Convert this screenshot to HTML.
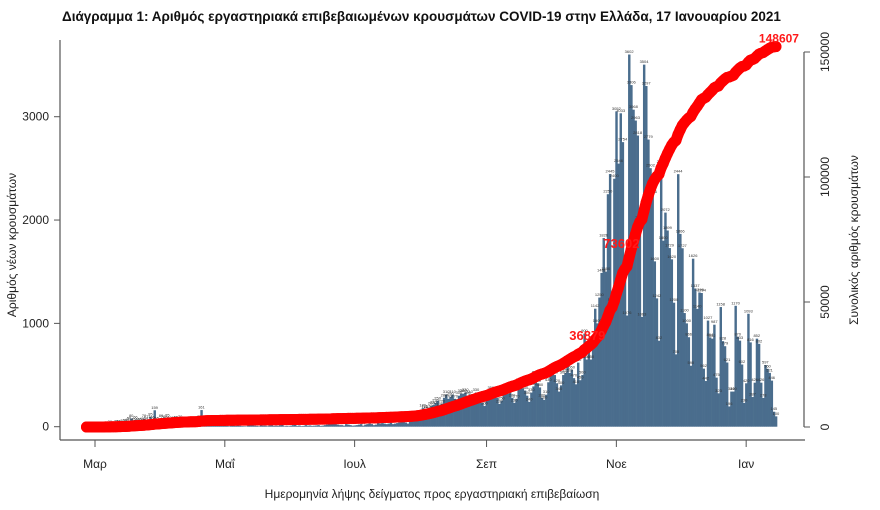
<!DOCTYPE html>
<html><head><meta charset="utf-8">
<style>
body{margin:0;background:#fff;}
svg{display:block;font-family:"Liberation Sans","DejaVu Sans",sans-serif;}
</style></head>
<body>
<svg id="chart" width="880" height="510" viewBox="0 0 880 510" xmlns="http://www.w3.org/2000/svg">
<text x="62" y="21" font-size="13.5" font-weight="bold" fill="#111">Διάγραμμα 1: Αριθμός εργαστηριακά επιβεβαιωμένων κρουσμάτων COVID-19 στην Ελλάδα, 17 Ιανουαρίου 2021</text>
<g id="bars"></g>
<g id="vlabels"></g>
<g id="curve"></g>
<g id="axes"></g>
<text transform="translate(16,245) rotate(-90)" text-anchor="middle" font-size="12" fill="#222">Αριθμός νέων κρουσμάτων</text>
<text transform="translate(858,240) rotate(-90)" text-anchor="middle" font-size="12" fill="#222">Συνολικός αριθμός κρουσμάτων</text>
<text x="432" y="498" text-anchor="middle" font-size="12" fill="#222">Ημερομηνία λήψης δείγματος προς εργαστηριακή επιβεβαίωση</text>
</svg>
<script>
// Daily new cases from 26 Feb 2020
const febValues = [1,2,0,3];
const marValues = [2,0,0,2,12,14,7,20,11,0,25,28,19,33,38,40,56,80,45,66,46,45,48,78,54,71,95,66,159,55,40];
const aprValues = [80,70,60,85,60,50,62,65,55,70,42,30,30,25,35,20,25,40,70,161,40,60,35,30,15,20,15,10,20,10];
const mayValues = [15,10,5,12,15,8,12,10,6,5,4,12,20,15,10,8,5,15,10,10,5,12,15,8,10,8,15,20,5,8,5];
const junValues = [10,15,20,8,12,6,8,15,10,12,8,10,12,15,8,10,15,20,25,30,60,25,20,15,15,10,25,20,15,10];
const julValues = [12,15,20,25,10,20,25,30,25,15,20,40,30,35,30,25,30,40,25,30,35,40,50,45,40,30,60,60,55,80,110];
const augValues = [120,180,165,150,170,200,210,230,250,190,220,280,310,270,290,310,270,230,300,320,320,330,300,310,280,270,330,290,250,230,200];
const sepValues = [260,310,350,330,300,280,220,250,330,340,320,370,280,230,270,430,410,370,350,300,240,330,390,500,420,380,280,260,310,430];
const octEarlyValues = [540,520,500,420,340,400,500,520,580,520,550,470,410,620];
const lateValues = [450,500,900,650,750,650,800,1142,1000,1250,1488,1826,1500,2250,2445,1203,2400,3052,2546,3033,2754,1500,1076,3602,3306,3068,2963,2818,2000,1063,3504,3297,2779,2502,2246,1600,1242,832,2537,1800,2072,1899,1729,1620,1200,700,2444,1866,1727,1100,1000,866,590,1626,1337,1140,1299,1294,562,442,1027,864,852,987,475,323,1158,828,779,621,196,340,340,1170,870,833,602,230,420,1093,816,287,426,852,802,426,278,597,560,521,446,145,100];
const monthTicks = ["Μαρ","Μαΐ","Ιουλ","Σεπ","Νοε","Ιαν"];
const monthTickDays = [0,61,122,184,245,306];
const leftTicks = [0,1000,2000,3000];
const rightTicks = [0,50000,100000,150000];
const highlightCum = [36879,73602,148607];

const daily = [].concat(febValues,marValues,aprValues,mayValues,junValues,julValues,augValues,sepValues,octEarlyValues,lateValues);
const startDay = -4;
const cum = []; let s = 0; daily.forEach(v=>{s+=v;cum.push(s);});

const NS="http://www.w3.org/2000/svg";
const pxDay = 2.128;
const xDay = d => 95 + d*pxDay;
const yL = v => 426.7 - v*0.10333;
const yR = v => 427 - v*0.0025;
function mk(tag, attrs, parent){const e=document.createElementNS(NS,tag);for(const k in attrs)e.setAttribute(k,attrs[k]);parent.appendChild(e);return e;}

const gb=document.getElementById('bars'), gv=document.getElementById('vlabels'), gc=document.getElementById('curve'), ga=document.getElementById('axes');
daily.forEach((v,i)=>{
  const x=xDay(startDay+i)-pxDay/2;
  const r=mk('rect',{x:x.toFixed(2),y:yL(v).toFixed(2),width:(pxDay+0.3).toFixed(2),height:(yL(0)-yL(v)).toFixed(2),fill:'#4a6d8d'},gb);
  
  
  const t=mk('text',{x:(x+pxDay/2).toFixed(2),y:(yL(v)-1.5).toFixed(2),'font-size':'4','text-anchor':'middle',fill:'#333'},gv);
  
  
  t.textContent=v;
});
const pts=cum.map((c,i)=>xDay(startDay+i).toFixed(2)+','+yR(c).toFixed(2)).join(' ');
const pl=mk('polyline',{points:pts,fill:'none',stroke:'#ff0000','stroke-width':'11','stroke-linecap':'round','stroke-linejoin':'round'},gc);


cum.forEach((c,i)=>{
  const p=mk('circle',{cx:xDay(startDay+i).toFixed(2),cy:yR(c).toFixed(2),r:'5.5',fill:'#ff0000'},gc);
  
  
});
highlightCum.forEach((h,k)=>{
  let idx=cum.findIndex(c=>c>=h); if(idx<0) idx=cum.length-1;
  const last = k===highlightCum.length-1;
  const x = last ? xDay(startDay+cum.length-1)+3 : xDay(startDay+idx)-12;
  const y = last ? yR(cum[cum.length-1])-4 : yR(h)+5;
  const t=mk('text',{x:x.toFixed(2),y:y.toFixed(2),'font-size':last?'12':'13','font-weight':'bold','text-anchor':'middle',fill:'#ff1a1a'},gc);
  
  
  t.textContent=h;
});
// axes
const ax1=mk('line',{x1:60,y1:40,x2:60,y2:440,stroke:'#555','stroke-width':1.2},ga);


const ax2=mk('line',{x1:60,y1:440,x2:805,y2:440,stroke:'#555','stroke-width':1.2},ga);


const ax3=mk('line',{x1:804,y1:yR(0),x2:804,y2:yR(150000),stroke:'#555','stroke-width':1.2},ga);


leftTicks.forEach(v=>{
  const l=mk('line',{x1:54,x2:60,y1:yL(v),y2:yL(v),stroke:'#555'},ga);
  
  
  const t=mk('text',{x:49,y:yL(v)+4,'font-size':'12','text-anchor':'end',fill:'#222'},ga);
  
  
  t.textContent=v;
});
rightTicks.forEach(v=>{
  const l=mk('line',{x1:804,x2:810,y1:yR(v),y2:yR(v),stroke:'#555'},ga);
  
  
  const t=mk('text',{transform:`translate(829,${yR(v).toFixed(1)}) rotate(-90)`,'font-size':'12','text-anchor':'middle',fill:'#222'},ga);
  
  
  t.textContent=v;
});
monthTicks.forEach((m,i)=>{
  const x=xDay(monthTickDays[i]);
  const l=mk('line',{x1:x,x2:x,y1:440,y2:447,stroke:'#555'},ga);
  
  
  const t=mk('text',{x:x,y:468,'font-size':'12','text-anchor':'middle',fill:'#222'},ga);
  
  
  t.textContent=m;
});
</script>
</body></html>
